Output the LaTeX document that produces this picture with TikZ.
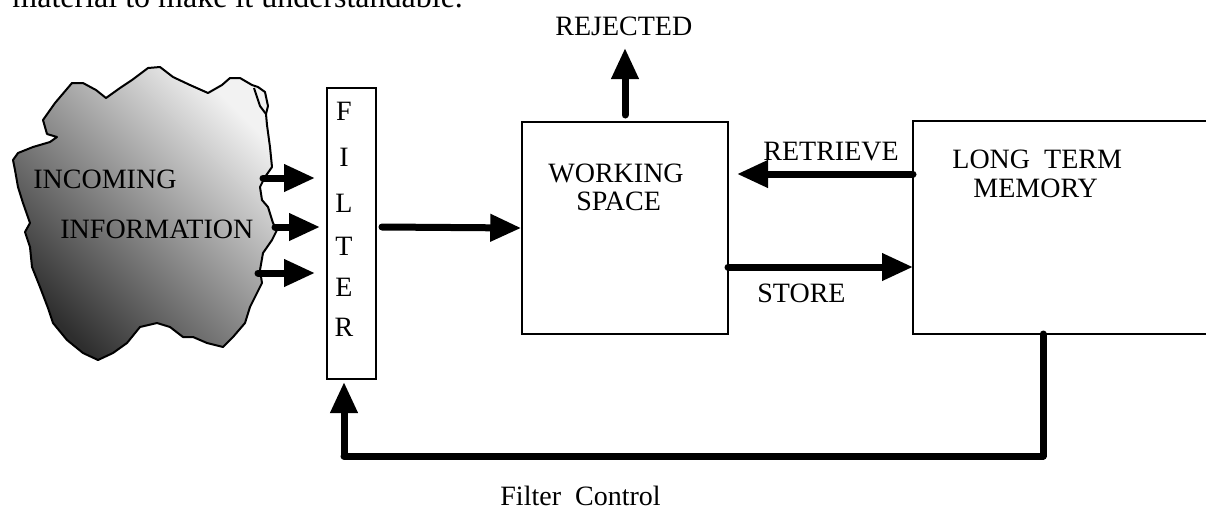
\documentclass[tikz,border=0pt]{standalone}
\usepackage{fontspec}
\setmainfont{Liberation Serif}
\usetikzlibrary{arrows.meta}
\begin{document}
\begin{tikzpicture}[x=0.5pt,y=-0.5pt,
  lbl/.style={font=\fontsize{14}{16}\selectfont, inner sep=0pt, anchor=base west},
  flet/.style={font=\fontsize{14}{16}\selectfont, inner sep=0pt, anchor=base},
  boxnode/.style={draw=black, line width=0.75pt, inner sep=0pt, fill=white},
  bigarrow/.style={line width=3.5pt, line cap=round, -{Triangle[length=15.5pt,width=13pt]}},
  thickline/.style={line width=3.5pt, line cap=round, line join=round}]
\useasboundingbox (0,0) rectangle (1206,510);
\clip (0,0) rectangle (1206,510);

% body text cut at top
\node[font=\fontsize{16}{18}\selectfont, inner sep=0pt, anchor=base west] (bodytext) at (12,7) {material to make it understandable.};

% cloud
\shade[draw=black, line width=1pt, line join=round,
  top color=white!95!black, bottom color=black!82, shading angle=-45]
  (13,160) -- (18,153) -- (33,147) -- (50,142) -- (57,137) -- (47,134) -- (43,120) -- (55,103) -- (72,83) -- (83,83) -- (96,90) -- (106,98) -- (120,88) -- (132,80) -- (148,68) -- (160,67) -- (173,77) -- (190,85) -- (208,93) -- (222,85) -- (230,78) -- (240,78) -- (252,85) -- (258,87) -- (265,92) -- (268,106) -- (266,114) -- (267,125) -- (270,147) -- (272,167) -- (265,177) -- (260,187) -- (262,200) -- (268,207) -- (273,223) -- (277,230) -- (272,240) -- (263,253) -- (260,270) -- (262,283) -- (257,293) -- (250,307) -- (245,323) -- (233,337) -- (223,347) -- (207,343) -- (193,337) -- (183,337) -- (170,327) -- (157,323) -- (140,327) -- (127,343) -- (113,353) -- (98,360) -- (83,353) -- (67,340) -- (53,323) -- (48,308) -- (40,287) -- (32,267) -- (30,247) -- (25,232) -- (30,223) -- (23,203) -- (18,187) -- (15,170) -- cycle;
\draw[line width=1pt, line join=round] (254,88) -- (260,106) -- (266,114);

\node[lbl] (incoming) at (33,188) {INCOMING};
\node[lbl] (information) at (60,238) {INFORMATION};

% boxes
\node[boxnode, minimum width=24.5pt, minimum height=145.5pt] (filter) at (351.5,233.5) {};
\node[boxnode, minimum width=103pt, minimum height=106pt] (ws) at (625,228) {};
\node[boxnode, minimum width=193.5pt, minimum height=106.5pt] (ltm) at (1106.5,227.5) {};

% filter letters
\node[flet] (fF) at (344,120) {F};
\node[flet] (fI) at (344,166) {I};
\node[flet] (fL) at (344,212) {L};
\node[flet] (fT) at (344,255) {T};
\node[flet] (fE) at (344,296) {E};
\node[flet] (fR) at (344,336) {R};

% labels
\node[lbl] (rejected) at (555,35) {REJECTED};
\node[lbl] (working) at (548,182) {WORKING};
\node[lbl] (space) at (576,210) {SPACE};
\node[lbl] (retrieve) at (763,160) {RETRIEVE};
\node[lbl] (store) at (757,302) {STORE};
\node[lbl] (longterm) at (952,168) {LONG\ \ TERM};
\node[lbl] (memory) at (973,197) {MEMORY};
\node[lbl] (fcontrol) at (500,505) {Filter\ \ Control};

% coordinates
\coordinate (c1) at (263,178);
\coordinate (c2) at (275,227);
\coordinate (c3) at (258,273);
\coordinate (t1) at (315,178);
\coordinate (t2) at (320,227);
\coordinate (t3) at (315,273);
\coordinate (fout) at (382,227);
\coordinate (rejbase) at (625,115);
\coordinate (rejtip) at (625,48);
\coordinate (retstart) at (913,174);
\coordinate (retend) at (737,174);
\coordinate (stostart) at (728,267);
\coordinate (stoend) at (913,267);
\coordinate (fb1) at (1043,334);
\coordinate (fb2) at (1043,456);
\coordinate (fb3) at (344,456);
\coordinate (fbtip) at (344,382);

% connectors
\draw[bigarrow] (c1) -- (t1);
\draw[bigarrow] (c2) -- (t2);
\draw[bigarrow] (c3) -- (t3);
\draw[bigarrow] (fout) -- (ws.west);
\draw[bigarrow] (rejbase) -- (rejtip);
\draw[bigarrow] (retstart) -- (retend);
\draw[bigarrow] (stostart) -- (stoend);
\draw[thickline] (fb1) -- (fb2) -- (fb3);
\draw[bigarrow] (fb3) -- (fbtip);
\end{tikzpicture}
\end{document}
